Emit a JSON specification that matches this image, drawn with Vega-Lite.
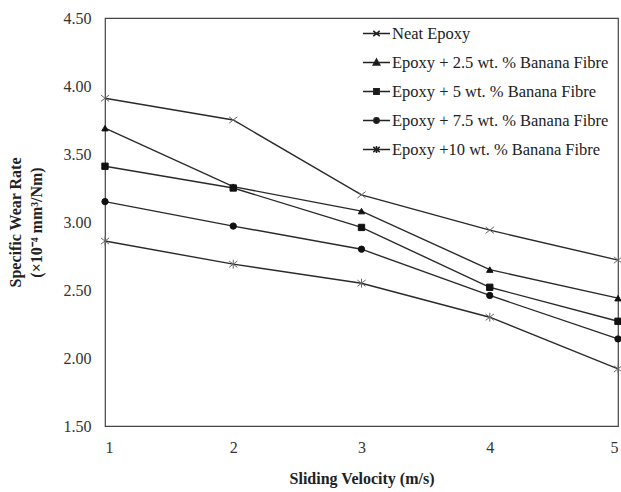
{
  "$schema": "https://vega.github.io/schema/vega-lite/v6.json",
  "width": 513,
  "height": 408,
  "autosize": "none",
  "padding": {"left": 105, "top": 18, "right": 3, "bottom": 66},
  "background": "white",
  "config": {
    "view": {"stroke": "#444", "strokeWidth": 1.2},
    "font": "Liberation Serif"
  },
  "data": {
    "values": [
      {"v": 1, "rate": 3.91, "series": "Neat Epoxy"},
      {"v": 2, "rate": 3.75, "series": "Neat Epoxy"},
      {"v": 3, "rate": 3.20, "series": "Neat Epoxy"},
      {"v": 4, "rate": 2.94, "series": "Neat Epoxy"},
      {"v": 5, "rate": 2.72, "series": "Neat Epoxy"},
      {"v": 1, "rate": 3.69, "series": "Epoxy + 2.5 wt. % Banana Fibre"},
      {"v": 2, "rate": 3.26, "series": "Epoxy + 2.5 wt. % Banana Fibre"},
      {"v": 3, "rate": 3.08, "series": "Epoxy + 2.5 wt. % Banana Fibre"},
      {"v": 4, "rate": 2.65, "series": "Epoxy + 2.5 wt. % Banana Fibre"},
      {"v": 5, "rate": 2.44, "series": "Epoxy + 2.5 wt. % Banana Fibre"},
      {"v": 1, "rate": 3.41, "series": "Epoxy + 5 wt. % Banana Fibre"},
      {"v": 2, "rate": 3.25, "series": "Epoxy + 5 wt. % Banana Fibre"},
      {"v": 3, "rate": 2.96, "series": "Epoxy + 5 wt. % Banana Fibre"},
      {"v": 4, "rate": 2.52, "series": "Epoxy + 5 wt. % Banana Fibre"},
      {"v": 5, "rate": 2.27, "series": "Epoxy + 5 wt. % Banana Fibre"},
      {"v": 1, "rate": 3.15, "series": "Epoxy + 7.5 wt. % Banana Fibre"},
      {"v": 2, "rate": 2.97, "series": "Epoxy + 7.5 wt. % Banana Fibre"},
      {"v": 3, "rate": 2.80, "series": "Epoxy + 7.5 wt. % Banana Fibre"},
      {"v": 4, "rate": 2.46, "series": "Epoxy + 7.5 wt. % Banana Fibre"},
      {"v": 5, "rate": 2.14, "series": "Epoxy + 7.5 wt. % Banana Fibre"},
      {"v": 1, "rate": 2.86, "series": "Epoxy +10 wt. % Banana Fibre"},
      {"v": 2, "rate": 2.69, "series": "Epoxy +10 wt. % Banana Fibre"},
      {"v": 3, "rate": 2.55, "series": "Epoxy +10 wt. % Banana Fibre"},
      {"v": 4, "rate": 2.30, "series": "Epoxy +10 wt. % Banana Fibre"},
      {"v": 5, "rate": 1.92, "series": "Epoxy +10 wt. % Banana Fibre"}
    ]
  },
  "encoding": {
    "x": {
      "field": "v", "type": "quantitative",
      "scale": {"domain": [1, 5], "nice": false, "zero": false},
      "axis": {
        "values": [1, 2, 3, 4, 5], "format": "d", "grid": false, "ticks": false, "domain": false,
        "labelFont": "Liberation Serif", "labelFontSize": 16, "labelColor": "#333", "labelPadding": 13,
        "title": "Sliding Velocity (m/s)", "titleFont": "Liberation Serif", "titleFontSize": 16,
        "titleFontWeight": "bold", "titleColor": "#222", "titlePadding": 15
      }
    },
    "y": {
      "field": "rate", "type": "quantitative",
      "scale": {"domain": [1.5, 4.5], "nice": false, "zero": false},
      "axis": {
        "values": [1.5, 2, 2.5, 3, 3.5, 4, 4.5], "format": ".2f", "grid": false, "ticks": false, "domain": false,
        "labelFont": "Liberation Serif", "labelFontSize": 16, "labelColor": "#333", "labelPadding": 14,
        "title": ["Specific Wear Rate", "(×10⁻⁴ mm³/Nm)"], "titleFont": "Liberation Serif", "titleFontSize": 16,
        "titleFontWeight": "bold", "titleColor": "#222", "titlePadding": 19, "titleLineHeight": 21
      }
    }
  },
  "layer": [
    {
      "mark": {"type": "line", "color": "#2a2a2a", "strokeWidth": 1.4},
      "encoding": {"detail": {"field": "series", "type": "nominal"}}
    },
    {
      "mark": {"type": "point", "filled": true, "size": 40, "strokeWidth": 1, "opacity": 1},
      "encoding": {
        "shape": {
          "field": "series", "type": "nominal", "legend": null,
          "scale": {
            "domain": ["Neat Epoxy", "Epoxy + 2.5 wt. % Banana Fibre", "Epoxy + 5 wt. % Banana Fibre", "Epoxy + 7.5 wt. % Banana Fibre", "Epoxy +10 wt. % Banana Fibre"],
            "range": [
              "M-1.3,-1L1.3,1M-1.3,1L1.3,-1",
              "triangle-up",
              "square",
              "circle",
              "M-1.3,-1L1.3,1M-1.3,1L1.3,-1M0,-1.4L0,1.4"
            ]
          }
        },
        "color": {
          "field": "series", "type": "nominal", "legend": null,
          "scale": {
            "domain": ["Neat Epoxy", "Epoxy + 2.5 wt. % Banana Fibre", "Epoxy + 5 wt. % Banana Fibre", "Epoxy + 7.5 wt. % Banana Fibre", "Epoxy +10 wt. % Banana Fibre"],
            "range": ["#111", "#111", "#111", "#111", "#111"]
          }
        },
        "stroke": {
          "field": "series", "type": "nominal", "legend": null,
          "scale": {
            "domain": ["Neat Epoxy", "Epoxy + 2.5 wt. % Banana Fibre", "Epoxy + 5 wt. % Banana Fibre", "Epoxy + 7.5 wt. % Banana Fibre", "Epoxy +10 wt. % Banana Fibre"],
            "range": ["#666", "#111", "#111", "#111", "#666"]
          }
        }
      }
    },
    {
      "transform": [{"filter": "datum.rate < 0"}],
      "mark": {"type": "point", "filled": false, "color": "#222", "fill": "#111", "strokeWidth": 1.2, "opacity": 1},
      "encoding": {
        "shape": {
          "field": "series", "type": "nominal",
          "scale": {
            "domain": ["Neat Epoxy", "Epoxy + 2.5 wt. % Banana Fibre", "Epoxy + 5 wt. % Banana Fibre", "Epoxy + 7.5 wt. % Banana Fibre", "Epoxy +10 wt. % Banana Fibre"],
            "range": [
              "M-1,0L1,0M-0.24,-0.2L0.24,0.2M-0.24,0.2L0.24,-0.2",
              "M-1,0L1,0M0,-0.26L0.24,0.18L-0.24,0.18Z",
              "M-1,0L1,0M-0.2,-0.2L0.2,-0.2L0.2,0.2L-0.2,0.2Z",
              "M-1,0L1,0M0.2,0A0.2,0.2,0,1,1,-0.2,0A0.2,0.2,0,1,1,0.2,0Z",
              "M-1,0L1,0M-0.24,-0.2L0.24,0.2M-0.24,0.2L0.24,-0.2M0,-0.26L0,0.26"
            ]
          },
          "legend": {
            "title": null,
            "orient": "none",
            "legendX": 257,
            "legendY": 1,
            "padding": 0,
            "rowPadding": 6,
            "symbolSize": 729,
            "labelFont": "Liberation Serif",
            "labelFontSize": 16.5,
            "labelColor": "#222",
            "labelOffset": 1,
            "labelLimit": 300
          }
        }
      }
    }
  ],
  "resolve": {"scale": {"shape": "independent", "color": "independent", "stroke": "independent"}, "legend": {"shape": "independent"}}
}
